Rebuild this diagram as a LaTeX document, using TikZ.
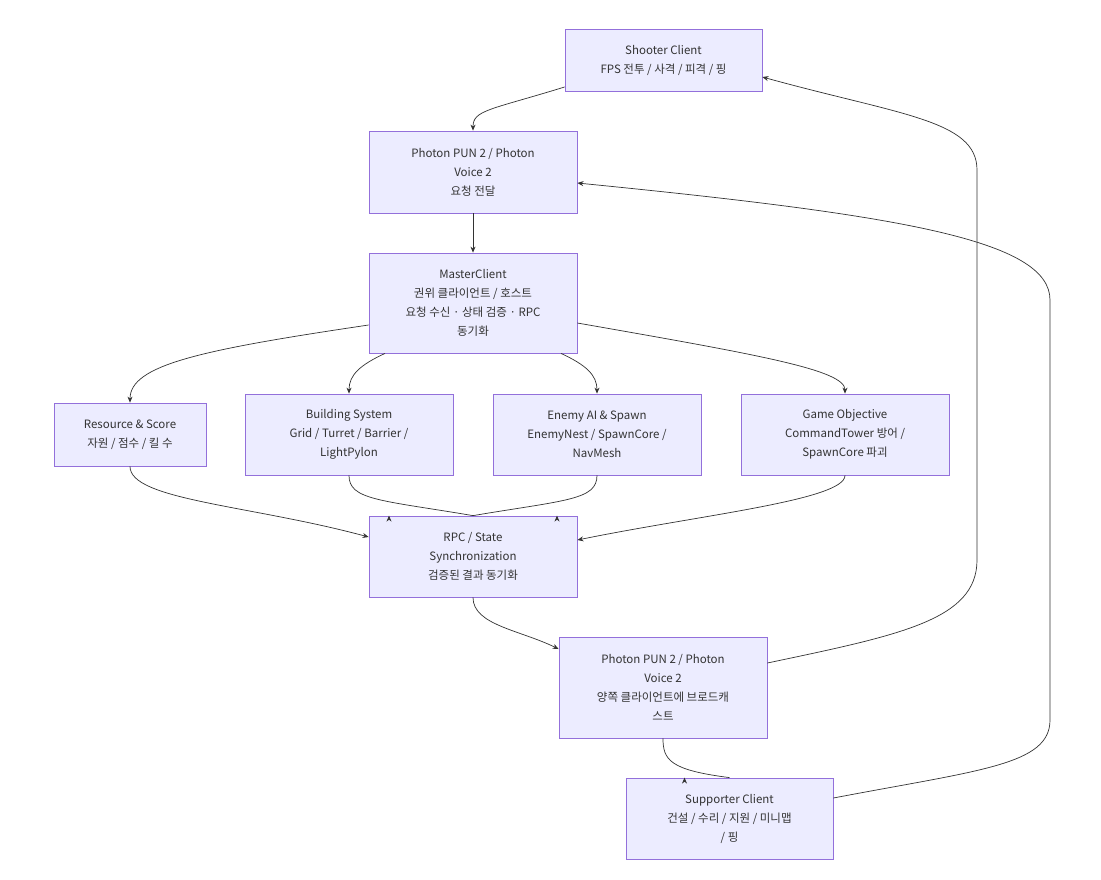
\documentclass[tikz,border=0pt]{standalone}
\usepackage{fontspec}
\setmainfont{Noto Sans CJK KR}
\usetikzlibrary{arrows.meta}
\definecolor{nfill}{HTML}{ECECFF}
\definecolor{nline}{HTML}{9370DB}
\definecolor{eline}{HTML}{333333}
\begin{document}
\begin{tikzpicture}[x=1pt,y=-1pt,
 box/.style={draw=nline,fill=nfill,line width=0.8pt,align=center,inner sep=0,font=\fontsize{11.5}{19}\selectfont,text=eline},
 e/.style={draw=eline,line width=0.7pt,-{Stealth[length=6pt,width=5pt]}}]
\useasboundingbox[fill=white] (0,0) rectangle (1101,879);
\def\bx#1#2#3#4#5#6{\node[box,minimum width=#4-#2,minimum height=#5-#3] (#1) at ({(#2+#4)/2},{(#3+#5)/2}) {#6};}
\bx{sh}{565}{29}{762}{91}{Shooter Client\\FPS 전투 / 사격 / 피격 / 핑}
\bx{p1}{369}{131}{577}{213}{Photon PUN 2 / Photon\\Voice 2\\요청 전달}
\bx{ma}{369}{253}{577}{353}{MasterClient\\권위 클라이언트 / 호스트\\요청 수신 · 상태 검증 · RPC\\동기화}
\bx{rs}{54}{403}{206}{466}{Resource \& Score\\자원 / 점수 / 킬 수}
\bx{bs}{245}{394}{453}{475}{Building System\\Grid / Turret / Barrier /\\LightPylon}
\bx{en}{493}{394}{701}{475}{Enemy AI \& Spawn\\EnemyNest / SpawnCore /\\NavMesh}
\bx{go}{741}{394}{949}{475}{Game Objective\\CommandTower 방어 /\\SpawnCore 파괴}
\bx{rpc}{369}{516}{577}{597}{RPC / State\\Synchronization\\검증된 결과 동기화}
\bx{p2}{559}{637}{767}{738}{Photon PUN 2 / Photon\\Voice 2\\양쪽 클라이언트에 브로드캐\\스트}
\bx{su}{626}{778}{833}{859}{Supporter Client\\건설 / 수리 / 지원 / 미니맵\\/ 핑}
\draw[e] (sh.west|-0,87) .. controls (490,110) and (473,110) .. (p1.north);
\draw[e] (p1.south) -- (ma.north);
\draw[e] (ma.west|-0,325) .. controls (200,350) and (130,365) .. (rs.north);
\draw[e] (ma.south)++(-88,0) .. controls (360,365) and (349,375) .. (bs.north);
\draw[e] (ma.south)++(88,0) .. controls (586,365) and (597,375) .. (en.north);
\draw[e] (ma.east|-0,323) .. controls (760,355) and (845,370) .. (go.north);
\draw[e] (rs.south) .. controls (130,500) and (250,505) .. (rpc.west|-0,537);
\draw[e] (bs.south) .. controls (349,500) and (380,500) .. (rpc.north)++(-84,0);
\draw[e] (en.south) .. controls (597,500) and (566,500) .. (rpc.north)++(84,0);
\draw[e] (go.south) .. controls (845,500) and (700,515) .. (rpc.east|-0,540);
\draw[e] (rpc.south) .. controls (473,625) and (520,630) .. (p2.west|-0,649);
\draw[e] (p2.south) .. controls (663,760) and (670,770) .. (su.north)++(-45,0);
\draw[e] (p2.east|-0,663) .. controls (900,635) and (977,620) .. (977,560) -- (977,170) .. controls (977,120) and (900,115) .. (sh.east|-0,77);
\draw[e] (su.east|-0,798) .. controls (980,770) and (1050,765) .. (1050,720) -- (1050,300) .. controls (1050,240) and (900,215) .. (p1.east|-0,183);
\end{tikzpicture}
\end{document}
